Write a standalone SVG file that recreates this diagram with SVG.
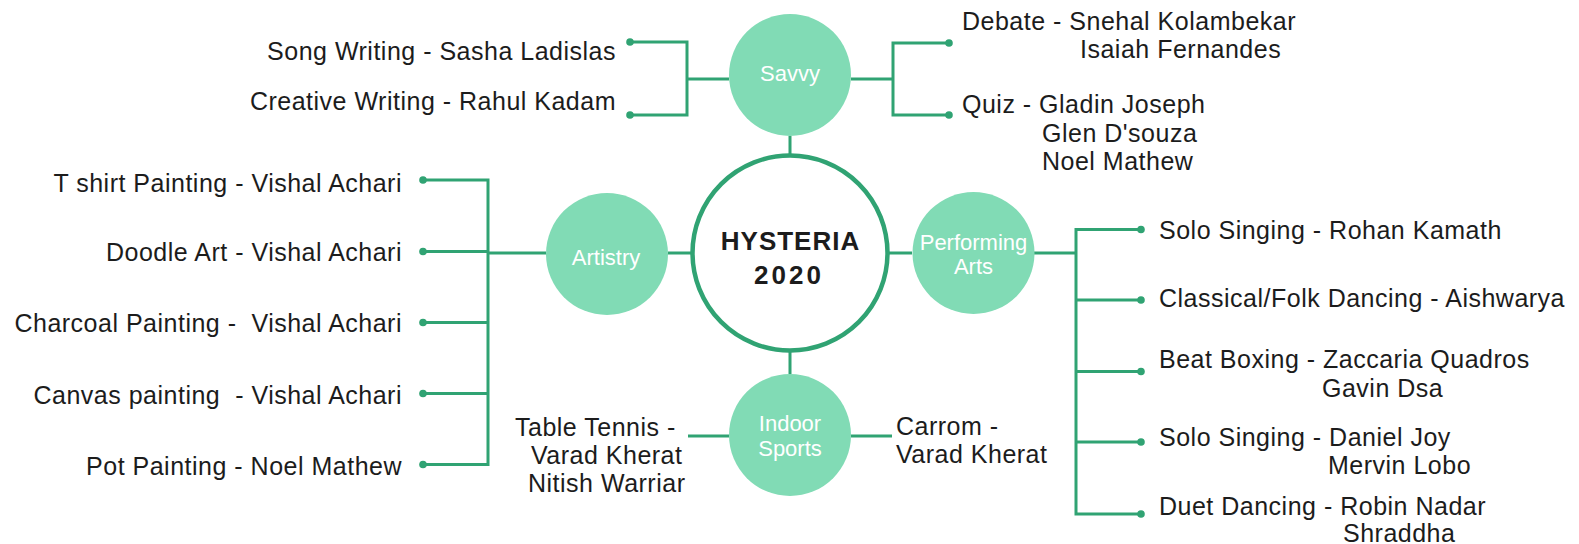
<svg xmlns="http://www.w3.org/2000/svg" width="1579" height="544" viewBox="0 0 1579 544">
<style>
.ln{fill:none;stroke:#30a373;stroke-width:3;stroke-linejoin:miter}
.dot{fill:#30a373}
.sub{fill:#81dbb5}
.lbl{font-family:"Liberation Sans",Arial,sans-serif;font-size:22px;fill:#ffffff;text-anchor:middle}
.t{font-family:"Liberation Sans",Arial,sans-serif;font-size:25px;fill:#1c1c1c;letter-spacing:0.5px;white-space:pre}
.r{text-anchor:end}
.hub{font-family:"Liberation Sans",Arial,sans-serif;font-weight:bold;font-size:26px;fill:#1c1c1c;text-anchor:middle}
</style>
<rect width="1579" height="544" fill="#ffffff"/>
<g id="connectors">
<path class="ln" d="M790 136V156M790 350V374M668 253H692M888 253H912"/>
<path class="ln" d="M729 79H687M630 42H687V115H630"/>
<path class="ln" d="M851 79H893M949 43H893V115H949"/>
<path class="ln" d="M546 253H488M423 180H488V464.5H423M423 251.5H488M423 322.5H488M423 393.5H488"/>
<path class="ln" d="M1034 253H1076M1141 229.5H1076V514H1141M1076 300H1141M1076 371.5H1141M1076 442H1141"/>
<path class="ln" d="M729 436H688M851 436H892"/>
<circle class="dot" cx="630" cy="42" r="3.8"/>
<circle class="dot" cx="630" cy="115" r="3.8"/>
<circle class="dot" cx="949" cy="43" r="3.8"/>
<circle class="dot" cx="949" cy="115" r="3.8"/>
<circle class="dot" cx="423" cy="180" r="3.8"/>
<circle class="dot" cx="423" cy="251.5" r="3.8"/>
<circle class="dot" cx="423" cy="322.5" r="3.8"/>
<circle class="dot" cx="423" cy="393.5" r="3.8"/>
<circle class="dot" cx="423" cy="464.5" r="3.8"/>
<circle class="dot" cx="1141" cy="229.5" r="3.8"/>
<circle class="dot" cx="1141" cy="300" r="3.8"/>
<circle class="dot" cx="1141" cy="371.5" r="3.8"/>
<circle class="dot" cx="1141" cy="442" r="3.8"/>
<circle class="dot" cx="1141" cy="514" r="3.8"/>
</g>
<g id="hysteria">
<circle cx="790" cy="253" r="97.5" fill="#ffffff" stroke="#30a373" stroke-width="4.5"/>
<text class="hub" x="790.5" y="250" letter-spacing="1">HYSTERIA</text>
<text class="hub" x="789" y="284" letter-spacing="3">2020</text>
</g>
<g id="savvy">
<circle class="sub" cx="790" cy="75" r="61"/>
<text class="lbl" x="790" y="81">Savvy</text>
</g>
<g id="artistry">
<circle class="sub" cx="607" cy="254" r="61"/>
<text class="lbl" x="606" y="265">Artistry</text>
</g>
<g id="performing-arts">
<circle class="sub" cx="973.5" cy="253" r="61"/>
<text class="lbl" x="973.5" y="250">Performing</text>
<text class="lbl" x="973.5" y="274">Arts</text>
</g>
<g id="indoor-sports">
<circle class="sub" cx="790" cy="435" r="61"/>
<text class="lbl" x="790" y="431">Indoor</text>
<text class="lbl" x="790" y="456">Sports</text>
</g>
<g id="savvy-items">
<text class="t r" x="616" y="60">Song Writing - Sasha Ladislas</text>
<text class="t r" x="616" y="110">Creative Writing - Rahul Kadam</text>
<text class="t" x="962" y="30">Debate - Snehal Kolambekar</text>
<text class="t" x="1080" y="58">Isaiah Fernandes</text>
<text class="t" x="962" y="113">Quiz - Gladin Joseph</text>
<text class="t" x="1042" y="141.5">Glen D'souza</text>
<text class="t" x="1042" y="170">Noel Mathew</text>
</g>
<g id="artistry-items">
<text class="t r" x="402" y="192">T shirt Painting - Vishal Achari</text>
<text class="t r" x="402" y="261">Doodle Art - Vishal Achari</text>
<text class="t r" x="402" y="332" xml:space="preserve">Charcoal Painting -  Vishal Achari</text>
<text class="t r" x="402" y="404" xml:space="preserve">Canvas painting  - Vishal Achari</text>
<text class="t r" x="402" y="475">Pot Painting - Noel Mathew</text>
</g>
<g id="performing-items">
<text class="t" x="1159" y="239">Solo Singing - Rohan Kamath</text>
<text class="t" x="1159" y="307">Classical/Folk Dancing - Aishwarya</text>
<text class="t" x="1159" y="368">Beat Boxing - Zaccaria Quadros</text>
<text class="t" x="1322" y="396.5">Gavin Dsa</text>
<text class="t" x="1159" y="445.5">Solo Singing - Daniel Joy</text>
<text class="t" x="1328" y="474">Mervin Lobo</text>
<text class="t" x="1159" y="515">Duet Dancing - Robin Nadar</text>
<text class="t" x="1343" y="542">Shraddha</text>
</g>
<g id="sports-items">
<text class="t" x="515" y="436">Table Tennis -</text>
<text class="t" x="531" y="464">Varad Kherat</text>
<text class="t" x="528" y="492">Nitish Warriar</text>
<text class="t" x="896" y="435">Carrom -</text>
<text class="t" x="896" y="463">Varad Kherat</text>
</g>
</svg>
